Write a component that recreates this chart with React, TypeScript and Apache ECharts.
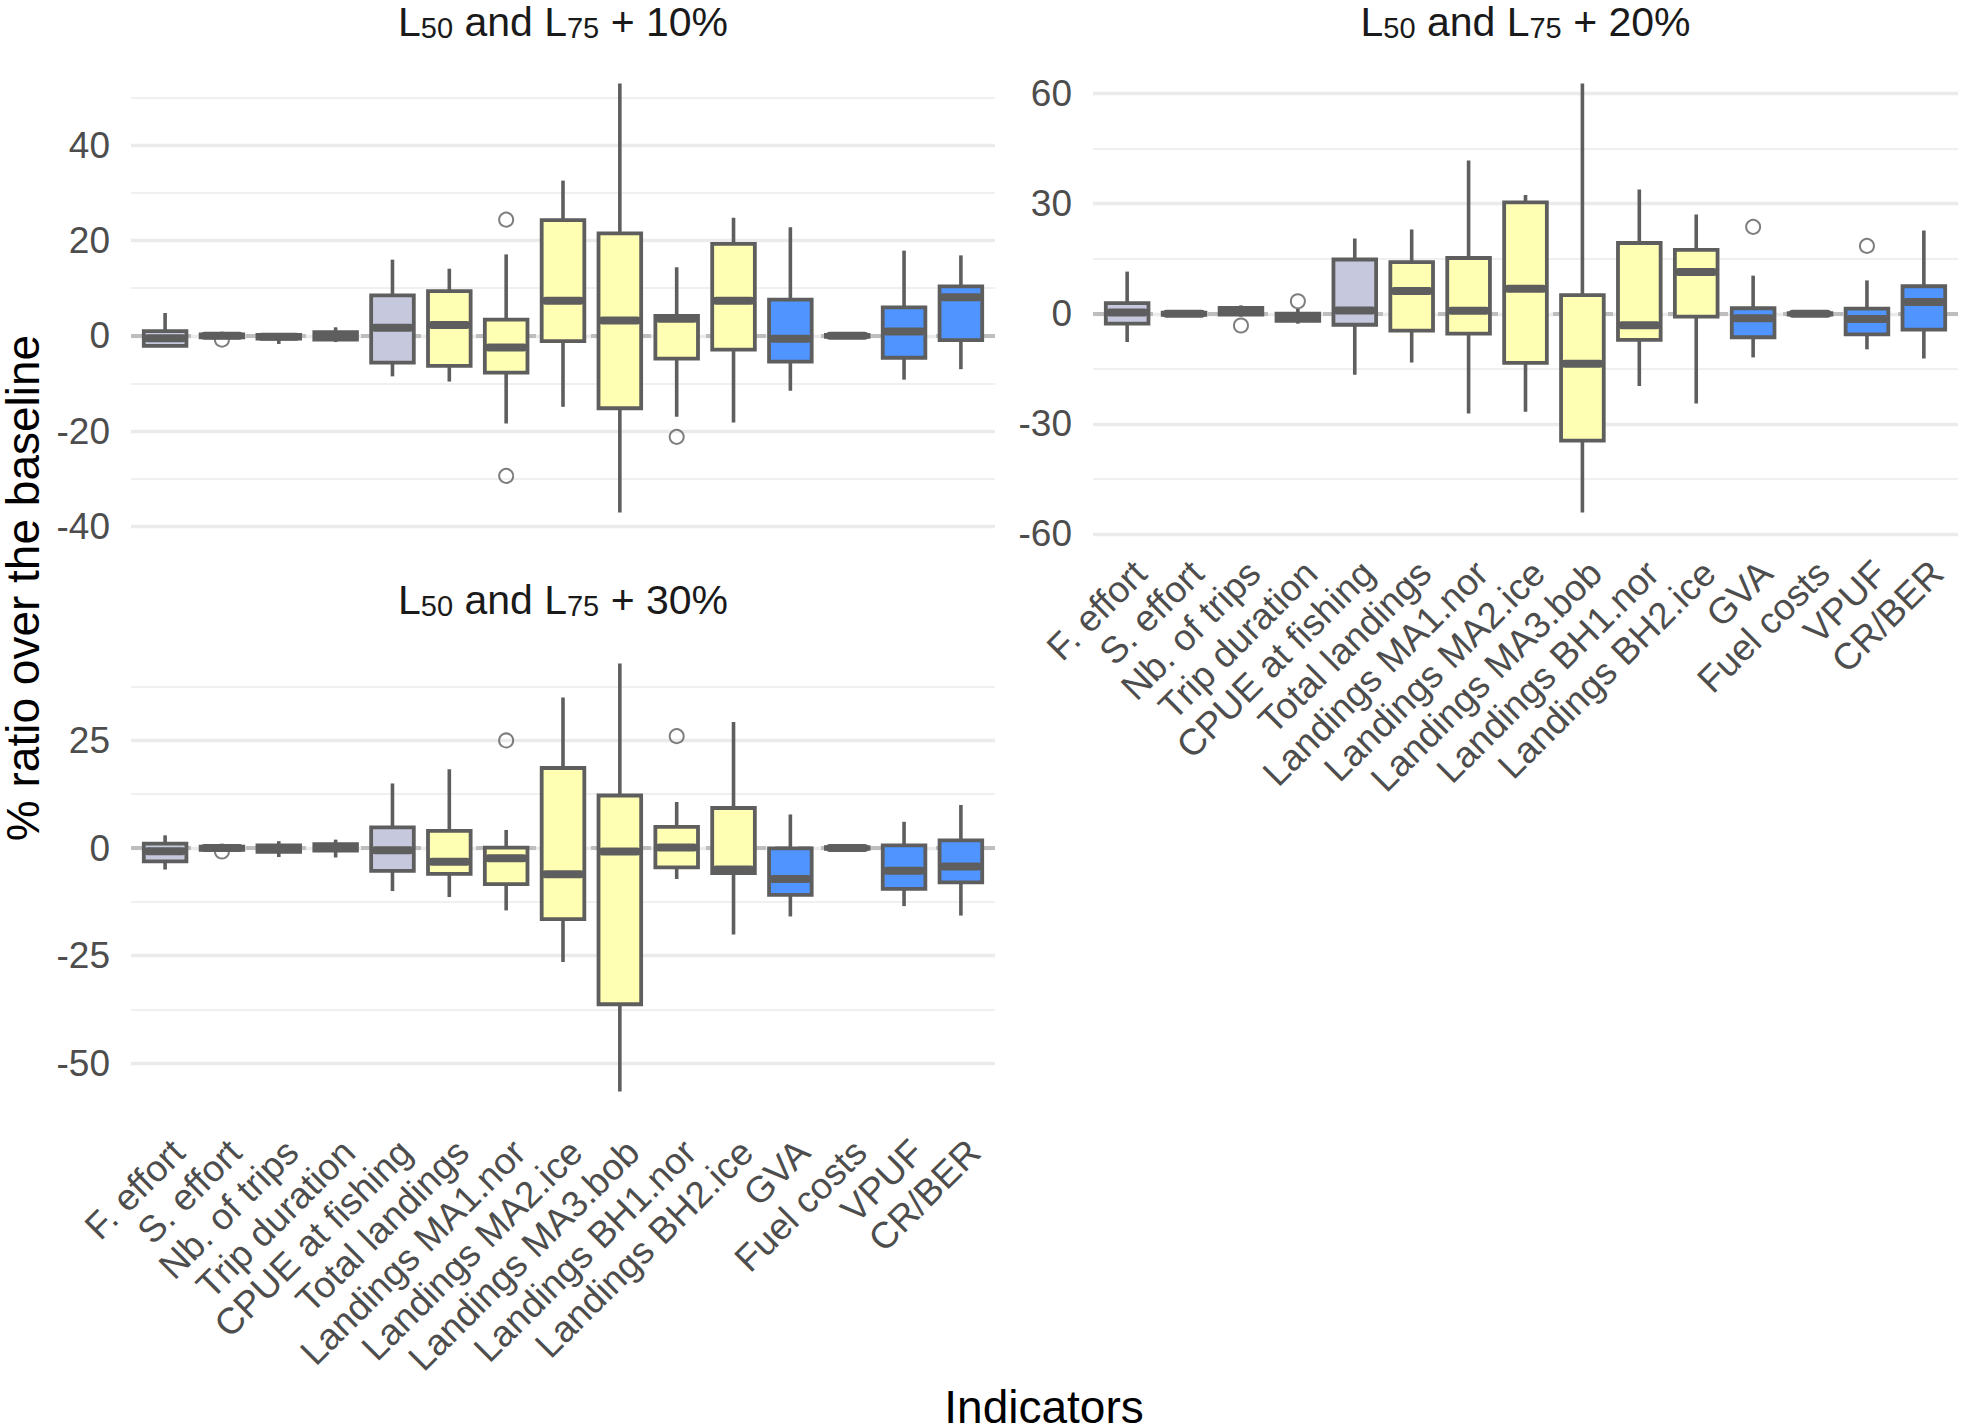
import React, { useEffect, useRef } from 'react';
import * as echarts from 'echarts';

// ---------- data ----------
const categories = [
  'F. effort', 'S. effort', 'Nb. of trips', 'Trip duration', 'CPUE at fishing',
  'Total landings', 'Landings MA1.nor', 'Landings MA2.ice', 'Landings MA3.bob',
  'Landings BH1.nor', 'Landings BH2.ice', 'GVA', 'Fuel costs', 'VPUF', 'CR/BER',
];
// 0 = effort indicators, 1 = landings, 2 = economic
const categoryGroup = [0, 0, 0, 0, 0, 1, 1, 1, 1, 1, 1, 2, 2, 2, 2];

const titles = ['10%', '20%', '30%'];

// L50 and L75 + 10%
const p10Low = [-2.1, -0.5, -1.7, -1.3, -8.5, -9.6, -18.4, -14.9, -37.1, -17.0, -18.2, -11.5, -0.3, -9.2, -7.0];
const p10Q1 = [-2.1, -0.3, -0.6, -0.8, -5.6, -6.3, -7.7, -1.1, -15.2, -4.8, -2.9, -5.4, -0.2, -4.6, -0.9];
const p10Med = [-0.5, 0, -0.2, 0, 1.7, 2.3, -2.45, 7.35, 3.2, 3.6, 7.35, -0.6, 0, 0.9, 8.1];
const p10Q3 = [1.0, 0.3, 0.2, 0.8, 8.5, 9.4, 3.4, 24.3, 21.5, 4.2, 19.3, 7.6, 0.2, 6.0, 10.4];
const p10High = [4.8, 0.5, 0.4, 1.8, 16.0, 14.1, 17.1, 32.6, 53.0, 14.4, 24.8, 22.8, 0.3, 17.9, 16.9];
const p10Outliers: [string, number][] = [
  ['S. effort', -0.8], ['Landings MA1.nor', 24.4], ['Landings MA1.nor', -29.4], ['Landings BH1.nor', -21.2],
];

// L50 and L75 + 20%
const p20Low = [-7.7, -0.4, -0.8, -2.7, -16.6, -13.3, -27.2, -26.7, -54.2, -19.7, -24.5, -11.9, -0.3, -9.7, -12.2];
const p20Q1 = [-2.7, -0.3, -0.2, -1.9, -3.0, -4.6, -5.4, -13.4, -34.6, -7.1, -0.8, -6.4, -0.2, -5.6, -4.3];
const p20Med = [0.35, 0, 1.0, -1.0, 0.9, 6.2, 0.8, 6.8, -13.6, -3.1, 11.4, -1.2, 0, -1.4, 3.2];
const p20Q3 = [2.9, 0.3, 1.6, 0, 14.8, 14.1, 15.2, 30.4, 5.1, 19.3, 17.4, 1.5, 0.2, 1.4, 7.5];
const p20High = [11.5, 0.4, 2.3, 1.3, 20.5, 23.0, 41.8, 32.4, 62.8, 33.9, 27.1, 10.4, 0.3, 9.1, 22.7];
const p20Outliers: [string, number][] = [
  ['Nb. of trips', -3.2], ['Trip duration', 3.4], ['GVA', 23.7], ['VPUF', 18.5],
];

// L50 and L75 + 30%
const p30Low = [-5.0, -0.4, -2.1, -2.2, -10.0, -11.4, -14.5, -26.5, -56.6, -7.2, -20.1, -15.9, -0.3, -13.5, -15.7];
const p30Q1 = [-3.1, -0.4, -0.9, -0.6, -5.3, -6.0, -8.4, -16.5, -36.3, -4.5, -5.8, -10.9, -0.2, -9.5, -8.0];
const p30Med = [-0.77, 0, -0.2, 0.2, -0.5, -3.2, -2.4, -6.1, -0.8, 0.1, -5.0, -7.2, 0, -5.3, -4.3];
const p30Q3 = [1.0, 0.3, 0.6, 0.9, 4.8, 4.0, 0.1, 18.6, 12.2, 4.9, 9.3, -0.1, 0.2, 0.6, 1.8];
const p30High = [2.95, 0.5, 1.6, 1.95, 15.0, 18.3, 4.2, 35.0, 42.9, 10.7, 29.3, 7.8, 0.3, 6.1, 10.0];
const p30Outliers: [string, number][] = [
  ['S. effort', -0.8], ['Landings MA1.nor', 25.0], ['Landings BH1.nor', 26.0],
];

const majorSteps = [20, 30, 25];

// ---------- style ----------
const FONT = '"Liberation Sans", Arial, Helvetica, sans-serif';
const STROKE = '#5E5E5E';
const FILLS = ['#C6C8DD', '#FFFFB3', '#4F94FF'];
const GRID_COLOR = '#EBEBEB';
const TICK_COLOR = '#4D4D4D';

const GRIDS = [
  { left: 131, top: 62, width: 864, height: 472 },
  { left: 1093, top: 62, width: 865, height: 472 },
  { left: 131, top: 642, width: 864, height: 471 },
];

const panelData = [
  { low: p10Low, q1: p10Q1, med: p10Med, q3: p10Q3, high: p10High, out: p10Outliers },
  { low: p20Low, q1: p20Q1, med: p20Med, q3: p20Q3, high: p20High, out: p20Outliers },
  { low: p30Low, q1: p30Q1, med: p30Med, q3: p30Q3, high: p30High, out: p30Outliers },
];

const renderBox = (params: any, api: any) => {
  const x = api.value(0);
  const lo = api.coord([x, api.value(1)]);
  const q1 = api.coord([x, api.value(2)]);
  const md = api.coord([x, api.value(3)]);
  const q3 = api.coord([x, api.value(4)]);
  const hi = api.coord([x, api.value(5)]);
  const bw = api.size([0.75, 0])[0];
  const fill = FILLS[api.value(6)];
  return {
    type: 'group',
    children: [
      { type: 'line', shape: { x1: lo[0], y1: lo[1], x2: hi[0], y2: hi[1] }, style: { stroke: STROKE, lineWidth: 3.6 } },
      {
        type: 'rect',
        shape: { x: q3[0] - bw / 2, y: q3[1], width: bw, height: Math.max(q1[1] - q3[1], 0.5) },
        style: { fill, stroke: STROKE, lineWidth: 3.8 },
      },
      {
        type: 'line',
        shape: { x1: md[0] - bw / 2 + 4, y1: md[1], x2: md[0] + bw / 2 - 4, y2: md[1] },
        style: { stroke: STROKE, lineWidth: 8, lineCap: 'round' },
      },
    ],
  };
};

function buildOption() {
  const grid: any[] = [];
  const xAxis: any[] = [];
  const yAxis: any[] = [];
  const series: any[] = [];
  const title: any[] = [];

  panelData.forEach((p, g) => {
    const g0 = GRIDS[g];
    grid.push({ ...g0, containLabel: false });
    const allVals = [...p.low, ...p.high, ...p.out.map((o) => o[1])];
    const dMin = Math.min(...allVals);
    const dMax = Math.max(...allVals);
    const pad = (dMax - dMin) * 0.05;
    const yMin = dMin - pad;
    const yMax = dMax + pad;
    const major = majorSteps[g];

    xAxis.push({
      gridIndex: g,
      type: 'value',
      min: -0.6,
      max: categories.length - 0.4,
      minInterval: 1,
      maxInterval: 1,
      splitLine: { show: false },
      axisLine: { show: false },
      axisTick: { show: false },
      axisLabel: {
        show: g !== 0,
        rotate: 45,
        align: 'right',
        verticalAlign: 'top',
        margin: 20,
        fontSize: 37,
        fontFamily: FONT,
        color: TICK_COLOR,
        showMinLabel: false,
        showMaxLabel: false,
        formatter: (v: number) => (Number.isInteger(v) && v >= 0 && v < categories.length ? categories[v] : ''),
      },
    });
    // minor grid axis
    yAxis.push({
      gridIndex: g,
      type: 'value',
      position: 'left',
      min: yMin,
      max: yMax,
      minInterval: major / 2,
      maxInterval: major / 2,
      axisLine: { show: false },
      axisTick: { show: false },
      axisLabel: { show: false },
      splitLine: { show: true, showMinLine: false, showMaxLine: false, lineStyle: { color: GRID_COLOR, width: 1.7 } },
    });
    // major grid axis with labels
    yAxis.push({
      gridIndex: g,
      type: 'value',
      position: 'left',
      min: yMin,
      max: yMax,
      minInterval: major,
      maxInterval: major,
      axisLine: { show: false },
      axisTick: { show: false },
      axisLabel: {
        show: true,
        margin: 21,
        fontSize: 37,
        fontFamily: FONT,
        color: TICK_COLOR,
        showMinLabel: false,
        showMaxLabel: false,
        formatter: (v: number) => (Math.abs(v / major - Math.round(v / major)) < 1e-6 ? String(Math.round(v)) : ''),
      },
      splitLine: { show: true, showMinLine: false, showMaxLine: false, lineStyle: { color: GRID_COLOR, width: 3.3 } },
    });

    const boxData = categories.map((c, i) => [i, p.low[i], p.q1[i], p.med[i], p.q3[i], p.high[i], categoryGroup[i]]);
    series.push({
      type: 'custom',
      xAxisIndex: g,
      yAxisIndex: 2 * g + 1,
      renderItem: renderBox,
      encode: { x: 0, y: [1, 2, 3, 4, 5] },
      data: boxData,
      z: 3,
      silent: true,
      markLine: {
        silent: true,
        z: 1,
        symbol: 'none',
        label: { show: false },
        lineStyle: { type: [14, 9], color: '#BEBEBE', width: 4 },
        data: [{ yAxis: 0 }],
      },
    });
    series.push({
      type: 'scatter',
      xAxisIndex: g,
      yAxisIndex: 2 * g + 1,
      symbol: 'circle',
      symbolSize: 14,
      z: 4,
      silent: true,
      itemStyle: { color: 'rgba(0,0,0,0)', borderColor: STROKE, borderWidth: 2 },
      data: p.out.map(([c, v]) => [categories.indexOf(c), v]),
    });

    title.push({
      text: `{n|L}{s|50}{n| and L}{s|75}{n| + ${titles[g]}}`,
      left: g0.left + g0.width / 2,
      top: g === 2 ? 579 : 1,
      textAlign: 'center',
      padding: 0,
      textStyle: {
        fontWeight: 'normal',
        rich: {
          n: { fontSize: 41, lineHeight: 41, fontWeight: 'normal', fontFamily: FONT, color: '#1A1A1A' },
          s: { fontSize: 29, lineHeight: 17, fontWeight: 'normal', verticalAlign: 'bottom', fontFamily: FONT, color: '#1A1A1A' },
        },
      },
    });
  });

  return {
    animation: false,
    backgroundColor: '#FFFFFF',
    title,
    grid,
    xAxis,
    yAxis,
    series,
    graphic: [
      {
        type: 'text',
        x: 23,
        y: 588,
        rotation: Math.PI / 2,
        style: {
          text: '% ratio over the baseline',
          font: `46px ${FONT}`,
          lineHeight: 40,
          fill: '#000000',
          align: 'center',
          verticalAlign: 'middle',
        },
      },
      {
        type: 'text',
        x: 1044,
        y: 1407,
        style: {
          text: 'Indicators',
          font: `46px ${FONT}`,
          fill: '#000000',
          align: 'center',
          verticalAlign: 'middle',
        },
      },
    ],
  };
}

export default function App() {
  const ref = useRef<HTMLDivElement>(null);
  useEffect(() => {
    if (!ref.current) return;
    const chart = echarts.init(ref.current, undefined, { renderer: 'svg' });
    chart.setOption(buildOption() as any);
    return () => chart.dispose();
  }, []);
  return (
    <div
      ref={ref}
      style={{ position: 'absolute', left: 0, top: 0, width: 1961, height: 1428, background: '#fff' }}
    />
  );
}
